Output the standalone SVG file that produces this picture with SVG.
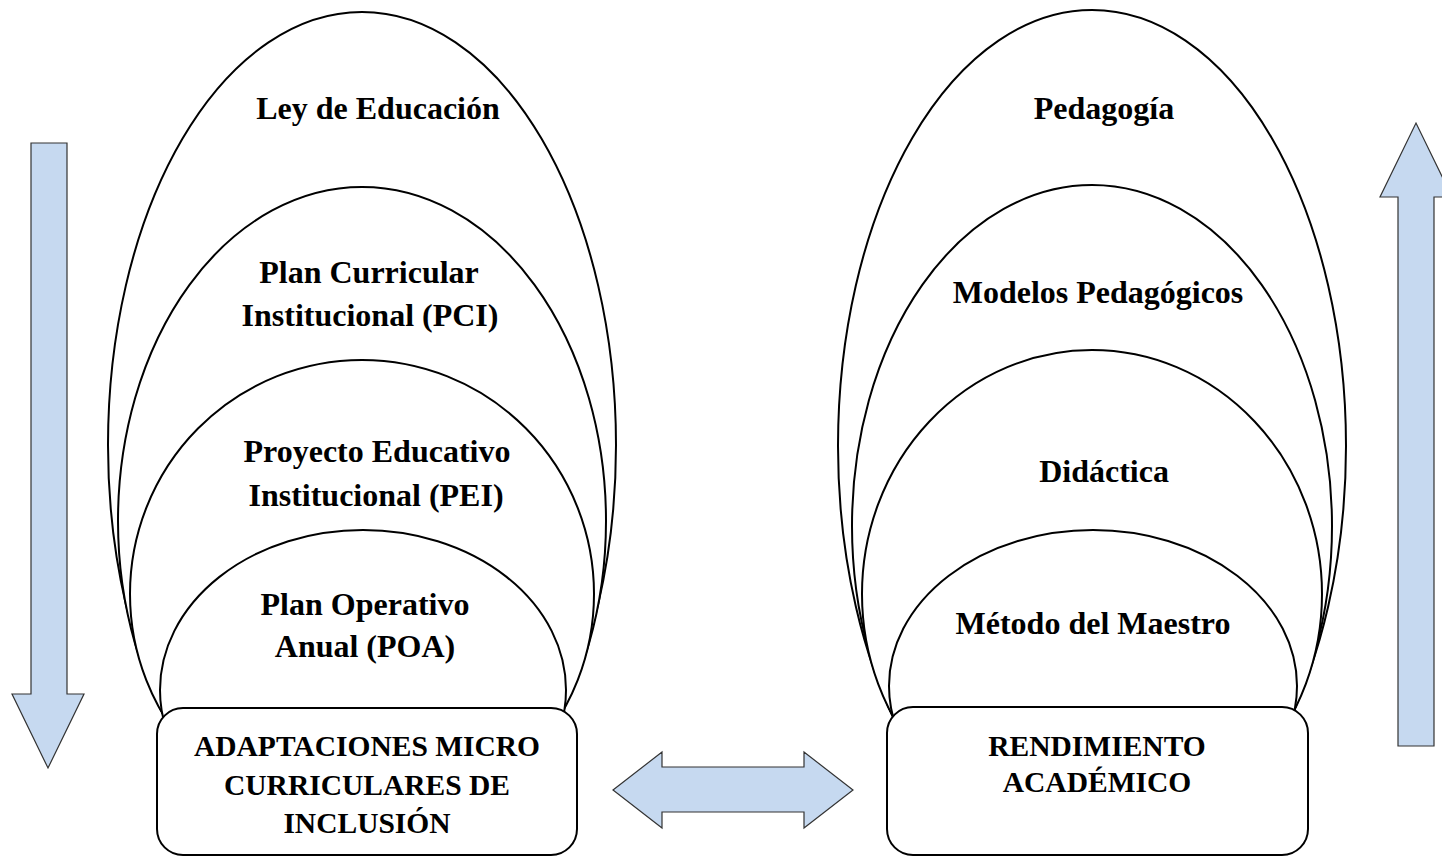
<svg xmlns="http://www.w3.org/2000/svg" width="1442" height="857" viewBox="0 0 1442 857">
<style>
.ell{fill:#fff;stroke:#000;stroke-width:2}
.box{fill:#fff;stroke:#000;stroke-width:2}
.arr{fill:#c6d9f0;stroke:#333;stroke-width:1.2}
.t{font-family:"Liberation Serif","Times New Roman",serif;font-weight:bold;font-size:32px;text-anchor:middle;fill:#000}
.bt{font-family:"Liberation Serif","Times New Roman",serif;font-weight:bold;font-size:29.5px;text-anchor:middle;fill:#000}
</style>
<defs>
<clipPath id="top"><rect x="0" y="0" width="1442" height="730"/></clipPath>
</defs>
<rect width="1442" height="857" fill="#fff"/>
<g id="left-stack">
<g id="ley"><ellipse class="ell" clip-path="url(#top)" cx="362" cy="445" rx="254" ry="433"/><text class="t" x="378" y="119">Ley de Educación</text></g>
<g id="pci"><ellipse class="ell" clip-path="url(#top)" cx="362" cy="521" rx="244" ry="334"/><text class="t" x="369" y="283">Plan Curricular</text><text class="t" x="370" y="326">Institucional (PCI)</text></g>
<g id="pei"><ellipse class="ell" clip-path="url(#top)" cx="362" cy="594" rx="232" ry="234"/><text class="t" x="377" y="462">Proyecto Educativo</text><text class="t" x="376" y="506">Institucional (PEI)</text></g>
<g id="poa"><ellipse class="ell" clip-path="url(#top)" cx="363" cy="690" rx="203" ry="160"/><text class="t" x="365" y="615">Plan Operativo</text><text class="t" x="365" y="657">Anual (POA)</text></g>
<g id="adaptaciones"><rect class="box" x="157" y="708" width="420" height="147" rx="26"/><text class="bt" x="367" y="756">ADAPTACIONES MICRO</text><text class="bt" x="367" y="795">CURRICULARES DE</text><text class="bt" x="367" y="833">INCLUSIÓN</text></g>
</g>
<g id="right-stack">
<g id="pedagogia"><ellipse class="ell" clip-path="url(#top)" cx="1092" cy="446" rx="254" ry="436"/><text class="t" x="1104" y="119">Pedagogía</text></g>
<g id="modelos"><ellipse class="ell" clip-path="url(#top)" cx="1092" cy="526" rx="240" ry="341"/><text class="t" x="1098" y="303">Modelos Pedagógicos</text></g>
<g id="didactica"><ellipse class="ell" clip-path="url(#top)" cx="1092" cy="594" rx="230" ry="244"/><text class="t" x="1104" y="482">Didáctica</text></g>
<g id="metodo"><ellipse class="ell" clip-path="url(#top)" cx="1093" cy="686" rx="204" ry="156"/><text class="t" x="1093" y="634">Método del Maestro</text></g>
<g id="rendimiento"><rect class="box" x="887" y="707" width="421" height="148" rx="26"/><text class="bt" x="1097" y="756">RENDIMIENTO</text><text class="bt" x="1097" y="792">ACADÉMICO</text></g>
</g>
<g id="connectors">
<polygon class="arr" points="31,143 67,143 67,694 84,694 48,768 12,694 31,694"/>
<polygon class="arr" points="1398,746 1434,746 1434,197 1452,197 1416,123 1380,197 1398,197"/>
<polygon class="arr" points="613,790 662,752 662,767 804,767 804,752 853,790 804,828 804,812 662,812 662,828"/>
</g>
</svg>
